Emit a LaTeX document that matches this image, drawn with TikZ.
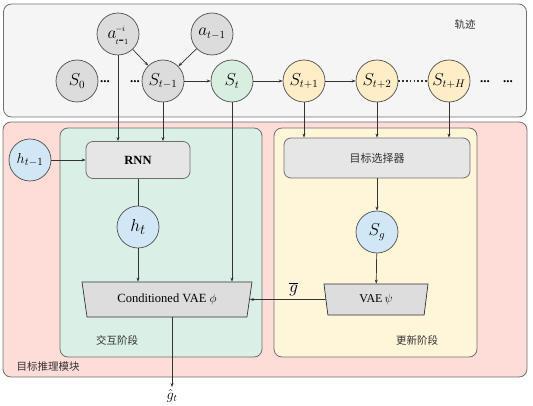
\documentclass[tikz,border=0pt]{standalone}
\usepackage{fontspec}
\setmainfont{Liberation Serif}
\newfontfamily\cjk{Noto Sans CJK SC}
\usetikzlibrary{shapes.geometric,arrows.meta}
\definecolor{trajfill}{HTML}{F5F5F5}
\definecolor{boxline}{HTML}{707070}
\definecolor{grayst}{HTML}{DCDCDC}
\definecolor{greenst}{HTML}{D8EEDF}
\definecolor{yellowst}{HTML}{FFEDC8}
\definecolor{bluest}{HTML}{D2E7F6}
\definecolor{redfill}{HTML}{FEDCD8}
\definecolor{greenfill}{HTML}{DAEFE6}
\definecolor{yellowfill}{HTML}{FFF5D8}
\definecolor{procfill}{HTML}{E6E6E6}
\definecolor{trapfill}{HTML}{DDDDDD}
\definecolor{txtgray}{HTML}{333333}
\begin{document}
\begin{tikzpicture}[x=1pt,y=-1pt,
  region/.style={draw=boxline, line width=0.8pt, rounded corners=8pt},
  state/.style={circle, draw=black!70, line width=0.7pt, minimum size=42pt, inner sep=0pt, font=\fontsize{16}{18}\selectfont},
  graystate/.style={state, fill=grayst},
  greenstate/.style={state, fill=greenst},
  yellowstate/.style={state, fill=yellowst},
  bluestate/.style={state, fill=bluest},
  proc/.style={draw=boxline, line width=0.8pt, fill=procfill, rounded corners=7pt, inner sep=0pt},
  trap/.style={trapezium, shape border rotate=180, draw=black!80, line width=0.7pt, fill=trapfill, trapezium stretches body, inner sep=0pt},
  cjklabel/.style={font=\cjk\fontsize{10.5}{12}\selectfont, text=txtgray},
  conn/.style={draw=black!80, line width=0.7pt},
  arr/.style={conn, -{Stealth[length=4pt,width=3pt]}},
  dots/.style={font=\fontsize{13}{13}\selectfont\bfseries, inner sep=0pt}
]
\useasboundingbox (0,0) rectangle (533,406);
% regions
\node[region, fill=trajfill, minimum width=523pt, minimum height=113pt, inner sep=0pt] (traj) at (265,60.5) {};
\node[region, fill=redfill, minimum width=524pt, minimum height=255pt, inner sep=0pt] (infer) at (265,249.5) {};
\node[region, fill=greenfill, minimum width=202pt, minimum height=229pt, inner sep=0pt] (inter) at (161,242.5) {};
\node[region, fill=yellowfill, minimum width=203pt, minimum height=229pt, inner sep=0pt] (update) at (375.5,242.5) {};
% labels
\node[cjklabel] (ltraj) at (465,25) {轨迹};
\node[cjklabel] (linter) at (117,340) {交互阶段};
\node[cjklabel] (lupdate) at (417,340) {更新阶段};
\node[cjklabel] (linfer) at (48,367) {目标推理模块};
% trajectory states
\node[graystate] (ai) at (118,34) {$a\mkern-1mu\begin{array}{@{}l@{}}\scriptscriptstyle -i\\[-5pt]\scriptscriptstyle t\mbox{-}1\end{array}$};
\node[graystate] (a) at (212,34) {$a_{t-1}$};
\node[graystate] (s0) at (77,81) {$S_0$};
\node[graystate] (stm1) at (163,81) {$S_{t-1}$};
\node[greenstate] (st) at (232,81) {$S_t$};
\node[yellowstate] (st1) at (304,81) {$S_{t+1}$};
\node[yellowstate] (st2) at (377,81) {$S_{t+2}$};
\node[yellowstate] (stH) at (449,81) {$S_{t+H}$};
\node[dots] (d1) at (105,82) {...};
\node[dots] (d2) at (135,82) {...};
\node[dots] (d3) at (485,82) {...};
\node[dots] (d4) at (508,82) {...};
% interaction stage
\node[bluestate, font=\fontsize{15}{16}\selectfont] (htm1) at (30,160) {$h_{t-1}$};
\node[proc, minimum width=104pt, minimum height=37pt, font=\fontsize{12.5}{14}\selectfont\bfseries] (rnn) at (138,160) {RNN};
\node[bluestate, font=\fontsize{19}{20}\selectfont] (ht) at (138,227) {$h_t$};
\node[trap, trapezium angle=65.4, minimum width=170pt, minimum height=35pt, font=\fontsize{12.5}{14}\selectfont] (cvae) at (167,299.5) {Conditioned VAE $\phi$};
% update stage
\node[proc, minimum width=186pt, minimum height=40pt, font=\cjk\fontsize{11}{12}\selectfont, text=txtgray] (sel) at (377,158) {目标选择器};
\node[bluestate] (sg) at (377,232) {$S_g$};
\node[trap, trapezium angle=70, minimum width=104pt, minimum height=31pt, font=\fontsize{12}{14}\selectfont] (vae) at (376,299.5) {VAE\,$\psi$};
% output
\coordinate (gout) at (172,387);
\node[font=\fontsize{14}{15}\selectfont, inner sep=1pt] (ghat) at (172,396) {$\hat{g}_t$};
% connectors in trajectory
\draw[arr] (ai) -- (stm1);
\draw[arr] (a) -- (stm1);
\draw[arr] (stm1) -- (st);
\draw[arr] (st) -- (st1);
\draw[arr] (st1) -- (st2);
\draw[conn, line width=1.6pt, dash pattern=on 1.6pt off 2.2pt] (st2) -- (stH);
% into RNN
\draw[arr] (ai) -- (ai |- rnn.north);
\draw[arr] (stm1) -- (stm1 |- rnn.north);
\draw[arr] (htm1) -- (rnn);
\draw[conn] (rnn) -- (ht);
\draw[arr] (ht) -- (ht |- cvae.north);
\draw[arr] (st) -- (st |- cvae.north);
% into selector
\draw[arr] (st1) -- (st1 |- sel.north);
\draw[arr] (st2) -- (st2 |- sel.north);
\draw[arr] (stH) -- (stH |- sel.north);
\draw[arr] (sel) -- (sg);
\draw[arr] (sg) -- (vae);
\draw[arr] (vae.west) -- node[above, pos=0.42, font=\fontsize{16}{16}\selectfont, text=black!85!blue] (gbar) {$\overline{g}$} (cvae.east);
\draw[arr] (cvae.south -| gout) -- (gout);
\end{tikzpicture}
\end{document}
